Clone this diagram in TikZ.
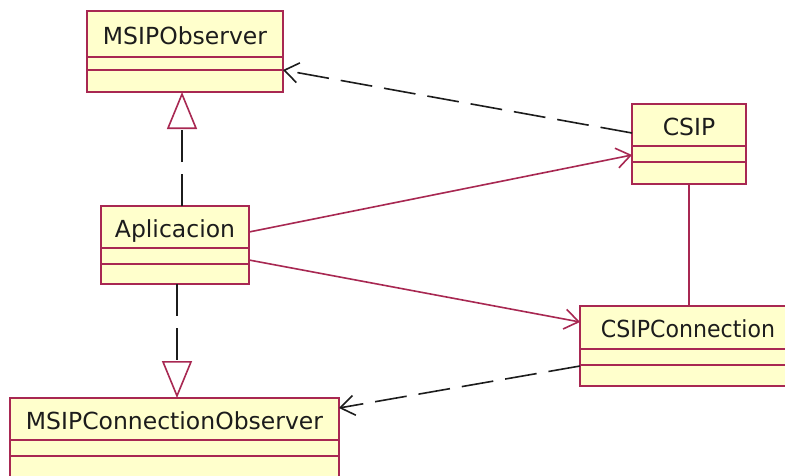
\documentclass[tikz,border=0pt]{standalone}
\usepackage{fontspec}
\setmainfont{DejaVu Sans}
\usetikzlibrary{arrows.meta}
\definecolor{umlborder}{RGB}{168,40,82}
\definecolor{umlfill}{RGB}{255,255,204}
\definecolor{umltext}{RGB}{28,28,28}
\tikzset{
  classbox/.style={draw=umlborder, fill=umlfill, line width=1.8pt,
    inner sep=0pt, outer sep=0pt, anchor=north west},
  classname/.style={font=\fontsize{23.5}{28}\selectfont, text=umltext,
    inner sep=0pt, anchor=base},
  compline/.style={draw=umlborder, line width=1.8pt},
  assoc/.style={draw=umlborder, line width=1.6pt},
  navassoc/.style={assoc, -{Straight Barb[length=14pt,width=20pt]}},
  depend/.style={draw=umltext, line width=1.6pt, dash pattern=on 32pt off 12pt,
    -{Straight Barb[length=14pt,width=20pt]}},
  realize/.style={draw=umltext, line width=1.6pt, dash pattern=on 32pt off 12pt,
    -{Triangle[length=37pt,width=30pt,color=umlborder,fill=white]}},
}
% [#1] title options, #2 name, #3 left, #4 top, #5 right, #6 bottom,
% #7/#8 compartment lines, #9 title
\newcommand\umlclass[9][]{%
  \node[classbox, minimum width={(#5-#3)*1pt}, minimum height={(#6-#4)*1pt}] (#2) at (#3,#4) {};
  \draw[compline] (#2.west |- 0,#7) -- (#2.east |- 0,#7);
  \draw[compline] (#2.west |- 0,#8) -- (#2.east |- 0,#8);
  \node[classname,#1] (#2-title) at ({(#3+#5)/2},{(#4+#7)/2+10}) {#9};
}
\begin{document}
\begin{tikzpicture}[x=1pt, y=-1pt]
  \useasboundingbox (0,0) rectangle (785,475);
  \fill[white] (0,0) rectangle (785,475);
  \clip (0,0) rectangle (785,475);

  \umlclass{msipobs}{87}{11}{283}{92}{57}{70}{MSIPObserver}
  \umlclass{apl}{101}{206}{249}{284}{248}{264}{Aplicacion}
  \umlclass{csip}{632}{104}{746}{184}{146}{162}{CSIP}
  \umlclass[xscale=0.94]{csipconn}{580}{306}{796}{386}{349}{365}{CSIPConnection}
  \umlclass{mcobs}{10}{398}{339}{495}{440}{456}{MSIPConnectionObserver}

  % realizations
  \draw[realize] (apl.north -| 182,0) -- (msipobs.south -| 182,0);
  \draw[realize] (apl.south -| 177,0) -- (mcobs.north -| 177,0);

  % dependencies
  \draw[depend] (csip.west |- 0,133) -- (msipobs.east |- 0,70);
  \draw[depend] (csipconn.west |- 0,366) -- (mcobs.east |- 0,408);

  % associations
  \draw[navassoc] (apl.east |- 0,232) -- (csip.west |- 0,155);
  \draw[navassoc] (apl.east |- 0,260) -- (csipconn.west |- 0,322);
  \draw[assoc] (csip.south -| 689,0) -- (csipconn.north -| 689,0);
\end{tikzpicture}
\end{document}
